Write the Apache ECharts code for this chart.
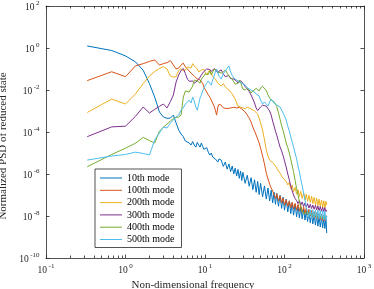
<!DOCTYPE html>
<html><head><meta charset="utf-8">
<script src="https://cdn.jsdelivr.net/npm/echarts@6/dist/echarts.min.js"></script>
<style>html,body{margin:0;padding:0;background:#fff}#c{width:374px;height:289px}</style>
</head><body><div id="c"></div>
<script>
const freq = [0.33,0.67,1,1.33,1.67,2,2.33,2.67,3,3.33,3.67,4,4.33,4.67,5,5.33,5.67,6,6.33,6.67,7,7.33,7.67,8,8.33,8.67,9,9.33,9.67,10,
10.5,11,11.5,12,12.5,13,13.5,14,14.5,15,16,17,18,19,20,21,22,23,24,25,26,27,28,29,30,
32,34,36,38,40,42,44,46,48,50,53,56,59,62,65,68,71,74,77,80,84,88,92,96,100,
105,110,115,120,125,130,136,142,148,154,160,167,174,181,188,195,203,211,219,227,236,245,254,263,272,282,292,302,312,322,332,340];

const psd10 = [1.25,0.76,0.42,0.22,0.087,0.02,4.6e-3,9e-4,5.2e-4,4.5e-4,4.6e-4,6.4e-4,2.7e-4,1.25e-4,8e-5,6e-5,3.7e-5,4.6e-5,3e-5,2.4e-5,3.5e-5,2.4e-5,1.9e-5,3.2e-5,2.4e-5,1.9e-5,3e-5,2.1e-5,1.5e-5,1.4e-5,
1.8e-5,1.1e-5,8e-6,1e-5,6.4e-6,7.6e-6,5.2e-6,6.4e-6,3.7e-6,5.2e-6,4.6e-6,2.3e-6,3.7e-6,1.7e-6,3e-6,1.3e-6,2.4e-6,1e-6,1.9e-6,8e-7,1.65e-6,6.2e-7,1.4e-6,4.9e-7,1.2e-6,
3.6e-7,8.7e-7,2.6e-7,6.7e-7,1.8e-7,5.3e-7,1.35e-7,4.4e-7,1.05e-7,3.6e-7,8.3e-8,2.7e-7,6.4e-8,2.15e-7,5.2e-8,1.7e-7,4.2e-8,1.35e-7,3.6e-8,1.2e-7,2.9e-8,9.7e-8,2.3e-8,7.9e-8,1.9e-8,
6.4e-8,1.55e-8,5.3e-8,1.3e-8,4.4e-8,1.1e-8,3.7e-8,9.2e-9,3.2e-8,8e-9,2.6e-8,7.3e-9,2.1e-8,6.4e-9,1.8e-8,5.5e-9,1.55e-8,4.8e-9,1.35e-8,4.2e-9,1.15e-8,3.7e-9,1.05e-8,3.3e-9,9.5e-9,3e-9,8.6e-9,2.75e-9,7.9e-9,2.55e-9,7.2e-9,1.55e-9];

const psd100 = [0.028,0.074,0.043,0.139,0.18,0.23,0.27,0.155,0.18,0.2,0.25,0.155,0.1,0.11,0.155,0.19,0.125,0.14,0.08,0.064,0.072,0.046,0.052,0.033,0.041,0.03,0.027,0.021,0.014,0.011,
8e-3,5.8e-3,4.6e-3,3.3e-3,2.7e-3,1.7e-3,1.1e-3,6.4e-4,1.55e-3,2.1e-3,1.9e-3,1.4e-3,1.55e-3,1.3e-3,1.55e-3,1.4e-3,1.65e-3,1.5e-3,1.55e-3,1.4e-3,1.4e-3,1.5e-3,1.3e-3,1.25e-3,1.1e-3,
9e-4,6.4e-4,4.6e-4,3e-4,1.7e-4,1.1e-4,7.2e-5,4.6e-5,3e-5,1.7e-5,7.2e-6,3e-6,1.1e-6,5.8e-7,3.3e-7,2.15e-7,1.55e-7,1.25e-7,6.8e-8,1.15e-7,5.3e-8,9e-8,4.2e-8,7.2e-8,3.3e-8,
6e-8,2.9e-8,5.2e-8,2.5e-8,4.5e-8,2.2e-8,4e-8,1.9e-8,3.6e-8,1.7e-8,3.2e-8,1.5e-8,2.75e-8,1.3e-8,2.4e-8,1.15e-8,2.1e-8,1e-8,1.8e-8,9e-9,1.6e-8,8e-9,1.45e-8,7.2e-9,1.3e-8,6.6e-9,1.2e-8,6.1e-9,1.1e-8,5.8e-9,1.05e-8,8e-9];

const psd200 = [8.5e-4,3.7e-3,2.15e-3,6.4e-3,0.02,0.046,0.076,0.105,0.13,0.1,0.046,0.041,0.043,0.085,0.105,0.08,0.09,0.125,0.14,0.11,0.18,0.14,0.16,0.1,0.072,0.064,0.09,0.11,0.095,0.072,
0.052,0.072,0.09,0.064,0.043,0.041,0.033,0.03,0.021,0.017,0.0155,0.02,0.014,0.012,0.01,8e-3,6.4e-3,5.2e-3,3.7e-3,2.4e-3,1.7e-3,1.4e-3,1.55e-3,1.3e-3,1.4e-3,
1.3e-3,1.5e-3,1.4e-3,1.25e-3,1.2e-3,1e-3,9e-4,7.2e-4,4.6e-4,2.7e-4,1.25e-4,4.2e-5,1.4e-5,7.2e-6,4.6e-6,3.7e-6,3.5e-6,3e-6,2.4e-6,1.9e-6,1.4e-6,1.1e-6,8e-7,6.4e-7,5.8e-7,
4.4e-7,3e-7,3.9e-7,2e-7,3e-7,1.45e-7,2.3e-7,1.1e-7,1.8e-7,8.5e-8,1.5e-7,6.8e-8,1.25e-7,5.8e-8,1.1e-7,5e-8,9.8e-8,4.4e-8,8.7e-8,3.9e-8,7.8e-8,3.4e-8,7e-8,3.1e-8,6.3e-8,2.8e-8,5.8e-8,2.55e-8,5.3e-8,2.4e-8,5e-8,3.3e-8];

const psd300 = [6e-5,1.75e-4,1.9e-4,5.5e-4,1.55e-3,8e-4,1.2e-3,1.65e-3,2.15e-3,1.4e-3,2.8e-3,5.8e-3,0.024,0.052,0.085,0.105,0.06,0.033,0.026,0.03,0.027,0.021,0.024,0.027,0.032,0.041,0.052,0.064,0.076,0.09,
0.1,0.11,0.095,0.076,0.09,0.105,0.105,0.08,0.064,0.08,0.09,0.058,0.043,0.052,0.049,0.035,0.03,0.033,0.036,0.027,0.021,0.024,0.028,0.027,0.021,
0.0145,0.011,8.5e-3,5.8e-3,3.7e-3,2.4e-3,1.4e-3,1.05e-3,1.25e-3,1.55e-3,1.9e-3,2.15e-3,1.7e-3,1.4e-3,1e-3,6.4e-4,3.3e-4,1.9e-4,1.1e-4,7e-5,3.5e-5,1.9e-5,1.25e-5,7.6e-6,4.2e-6,
2.15e-6,1e-6,5.2e-7,2.7e-7,1.55e-7,1e-7,6.8e-8,5.4e-8,3.9e-8,5.4e-8,3.3e-8,4.7e-8,2.85e-8,4.2e-8,2.6e-8,3.9e-8,2.4e-8,3.6e-8,2.25e-8,3.35e-8,2.1e-8,3.2e-8,1.95e-8,3e-8,1.8e-8,2.8e-8,1.7e-8,2.6e-8,1.65e-8,2.5e-8,1.6e-8,1.9e-8];

const psd400 = [2.2e-6,8.5e-6,1.7e-5,2.9e-5,5.5e-5,3.9e-5,3e-5,1.1e-4,1.7e-4,2.4e-4,3.3e-4,4.4e-4,4.9e-4,5.2e-4,6.4e-4,4.6e-3,9e-3,0.011,8e-3,7.2e-3,0.0155,0.03,0.037,0.027,0.024,0.021,0.033,0.039,0.046,0.058,
0.064,0.055,0.08,0.052,0.072,0.095,0.11,0.09,0.072,0.076,0.064,0.072,0.09,0.064,0.046,0.041,0.033,0.027,0.019,0.0155,0.021,0.03,0.024,0.0155,0.011,
0.01,0.0125,0.01,7.2e-3,9e-3,0.011,0.012,0.011,9e-3,0.0125,0.015,0.0125,9.5e-3,5.8e-3,4.2e-3,3.3e-3,3e-3,2.8e-3,2.15e-3,1.6e-3,8e-4,4e-4,2e-4,1.2e-4,6.4e-5,
3e-5,1.8e-5,1e-5,5e-6,2.4e-6,1.3e-6,5e-7,2e-7,1e-7,5e-8,2.7e-8,1.7e-8,1.3e-8,1.25e-8,1.5e-8,1.15e-8,1.45e-8,1.1e-8,1.4e-8,1e-8,1.3e-8,9.5e-9,1.25e-8,9e-9,1.2e-8,8.5e-9,1.1e-8,8e-9,1.05e-8,7.6e-9,1e-8,9e-9];

const psd500 = [4.6e-6,7.2e-6,8.5e-6,1.1e-5,9.5e-6,8e-6,4.2e-5,9e-5,1.7e-4,1.55e-4,2.7e-4,3.7e-4,5.2e-4,6.4e-4,1.1e-3,1.4e-3,2.15e-3,2.4e-3,3.3e-3,2.4e-3,4.6e-3,3e-3,1.55e-3,1.1e-3,2.15e-3,4.2e-3,5.8e-3,9e-3,0.011,0.0155,
0.021,0.027,0.03,0.017,0.03,0.046,0.072,0.1,0.105,0.046,0.033,0.06,0.08,0.11,0.14,0.072,0.049,0.037,0.033,0.03,0.027,0.024,0.022,0.021,0.019,
0.017,0.013,0.012,0.01,9.5e-3,8e-3,6.4e-3,5.2e-3,5.2e-3,3.3e-3,2.15e-3,2.7e-3,3e-3,1.7e-3,2.7e-3,3.7e-3,3.3e-3,2.4e-3,2e-3,1.9e-3,1.7e-3,1.55e-3,1.1e-3,8e-4,5.8e-4,
3.7e-4,1.9e-4,1.1e-4,5.8e-5,3.3e-5,1.9e-5,1e-5,5.2e-6,2.4e-6,1.25e-6,5.8e-7,2.7e-7,1.25e-7,5.8e-8,2.6e-8,2.15e-8,9e-9,2e-8,8.5e-9,2e-8,8e-9,1.9e-8,7.6e-9,1.9e-8,7.2e-9,1.8e-8,6.8e-9,1.8e-8,6.4e-9,1.7e-8,6.1e-9,1e-8];

const seriesNames = ['10th mode','100th mode','200th mode','300th mode','400th mode','500th mode'];
const seriesValues = [psd10, psd100, psd200, psd300, psd400, psd500];
const colors = ['#0072BD','#D95319','#EDB120','#7E2F8E','#77AC30','#4DBEEE'];
const xMajorTicks = [0.1, 1, 10, 100, 1000];
const xMinorTicks = [0.2,0.3,0.4,0.5,0.6,0.7,0.8,0.9,2,3,4,5,6,7,8,9,20,30,40,50,60,70,80,90,200,300,400,500,600,700,800,900];
const yMajorTicks = [1e-10, 1e-8, 1e-6, 1e-4, 1e-2, 1, 100];

const FONT = 'Liberation Serif';
const AX = '#262626';
const rich = {
  b: {fontFamily: FONT, fontSize: 9.5, color: AX},
  s: {fontFamily: FONT, fontSize: 7, color: AX, padding: [0, 0, 8, 1.5]}
};
function powLabel(v) {
  const e = Math.round(Math.log10(v));
  return '{b|10}{s|' + e + '}';
}
function xAxisDef(pos, ticks, len, labels, line) {
  return {
    type: 'log', logBase: 10, min: 0.1, max: 1000, gridIndex: 0, position: pos,
    axisLine: {show: line, lineStyle: {color: AX, width: 0.8}},
    axisTick: {show: true, inside: true, length: len, customValues: ticks, lineStyle: {color: AX, width: 0.8}},
    axisLabel: labels ? {show: true, customValues: xMajorTicks, margin: 4.5, formatter: powLabel, rich: rich} : {show: false},
    splitLine: {show: false}, minorTick: {show: false}
  };
}
function yAxisDef(pos, labels) {
  return {
    type: 'log', logBase: 10, min: 1e-10, max: 100, interval: 2, gridIndex: 0, position: pos,
    axisLine: {show: true, lineStyle: {color: AX, width: 0.8}},
    axisTick: {show: true, inside: true, length: 3.5, customValues: yMajorTicks, lineStyle: {color: AX, width: 0.8}},
    axisLabel: labels ? {show: true, customValues: yMajorTicks, margin: 6.5, padding: [3, 0, 0, 0], formatter: powLabel, rich: rich} : {show: false},
    splitLine: {show: false},
    name: labels ? 'Normalized PSD of reduced state' : '',
    nameLocation: 'middle', nameRotate: 90, nameGap: 32,
    nameTextStyle: {fontFamily: FONT, fontSize: 11, color: AX, padding: [0, 28, 0, 0]}
  };
}
const xa0 = xAxisDef('bottom', xMajorTicks, 3.5, true, true);
xa0.name = 'Non-dimensional frequency';
xa0.nameLocation = 'middle';
xa0.nameGap = 16;
xa0.nameTextStyle = {fontFamily: FONT, fontSize: 11, color: AX, padding: [0, 24, 0, 0]};

const option = {
  animation: false,
  backgroundColor: '#fff',
  color: colors,
  grid: {left: 46, right: 10, top: 6, bottom: 31, containLabel: false, outerBoundsMode: 'none'},
  xAxis: [
    xa0,
    xAxisDef('bottom', xMinorTicks, 2.5, false, false),
    xAxisDef('top', xMajorTicks, 3.5, false, true),
    xAxisDef('top', xMinorTicks, 2.5, false, false)
  ],
  yAxis: [yAxisDef('left', true), yAxisDef('right', false)],
  legend: {
    orient: 'vertical', left: 95, top: 169,
    data: seriesNames,
    icon: 'rect',
    itemWidth: 22, itemHeight: 1, itemGap: 0.3,
    padding: [3, 7, 2, 5],
    borderColor: AX, borderWidth: 0.8, backgroundColor: '#fff',
    textStyle: {fontFamily: FONT, fontSize: 10, color: '#000', lineHeight: 12}
  },
  series: seriesNames.map((name, k) => ({
    name: name, type: 'line', xAxisIndex: 0, yAxisIndex: 0,
    symbol: 'none', showSymbol: false,
    lineStyle: {width: 1, color: colors[k]},
    itemStyle: {color: colors[k]},
    data: freq.map((f, i) => [f, seriesValues[k][i]])
  }))
};
const chart = echarts.init(document.getElementById('c'), null, {renderer: 'canvas'});
chart.setOption(option);
</script>
</body></html>
